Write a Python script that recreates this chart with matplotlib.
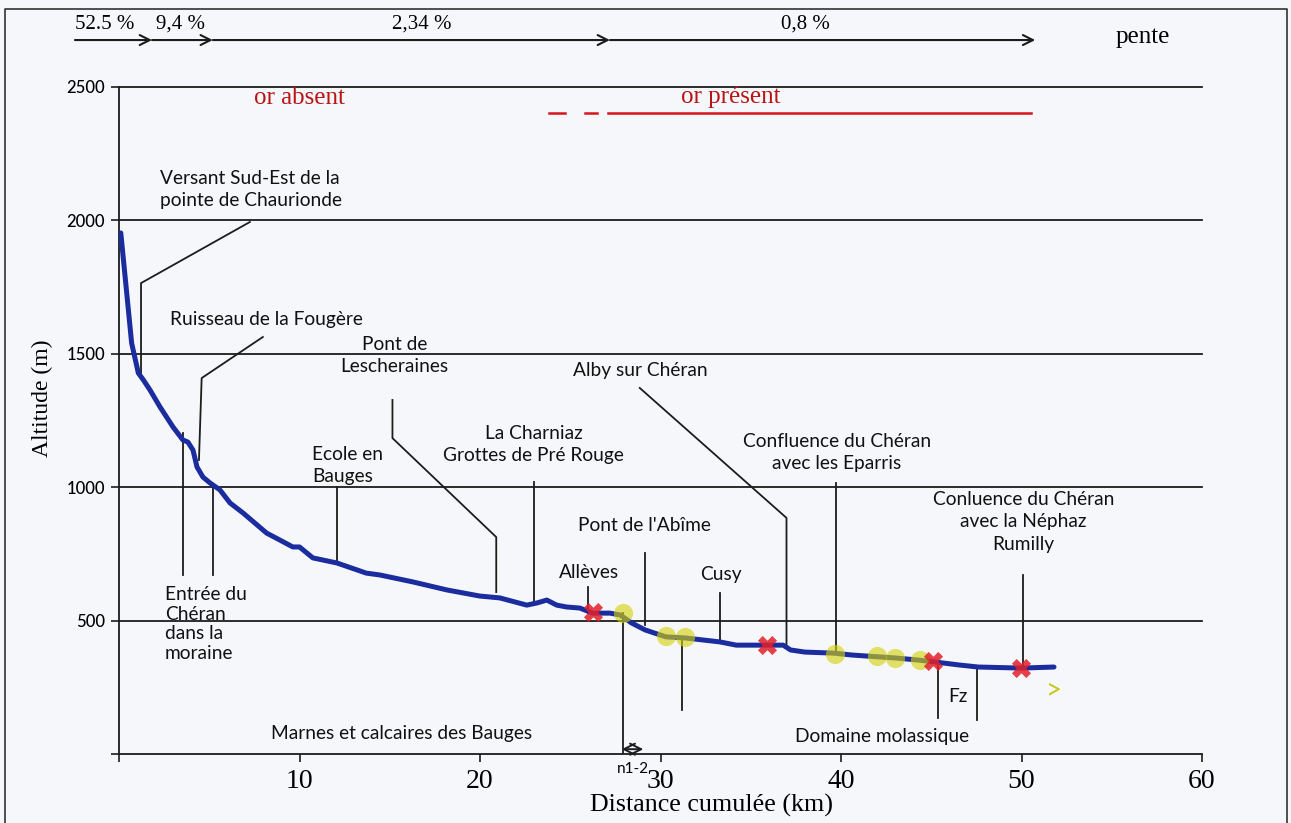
import matplotlib
matplotlib.use("Agg")
import matplotlib.pyplot as plt
from matplotlib.lines import Line2D

# profil en long du Chéran
dist = [0.1, 0.7, 1.07, 1.35, 1.72, 2.27, 2.99, 3.54, 3.82, 4.1, 4.32, 4.65, 5.04,
        5.59, 6.15, 6.88, 8.18, 8.91, 9.63, 10.0, 10.74, 12.07, 13.7, 14.45, 16.28,
        18.16, 19.99, 21.1, 22.59, 23.15, 23.7, 24.25, 24.8, 25.53, 26.25, 27.2,
        27.77, 28.4, 29.15, 30.3, 31.37, 33.3, 34.2, 35.8, 36.8, 37.2, 38.0, 39.6,
        40.6, 42.1, 43.0, 44.3, 45.2, 46.5, 47.6, 50.0, 51.8]
alt = [1953, 1540, 1428, 1402, 1364, 1301, 1226, 1177, 1169, 1139, 1076, 1038, 1016,
       990, 941, 903, 828, 802, 776, 776, 735, 716, 678, 671, 645,
       615, 592, 585, 558, 566, 577, 558, 551, 547, 528, 528,
       521, 491, 465, 439, 435, 420, 408, 408, 408, 390, 382, 378,
       371, 364, 360, 352, 345, 334, 326, 322, 326]

# stations : or absent (croix) / or present (cercles)
cross_x = [26.25, 35.9, 45.1, 49.95]
cross_y = [532, 408, 349, 322]
circ_x = [27.9, 30.3, 31.35, 39.65, 42.0, 43.0, 44.35]
circ_y = [528, 442, 438, 375, 367, 360, 352]

# pentes par troncon
pente_bounds = [-2.44, 1.83, 5.2, 27.2, 50.76]
pente_labels = ["52.5 %", "9,4 %", "2,34 %", "0,8 %"]
pente_label_x = [-0.78, 3.38, 16.78, 38.04]

# zone or present
or_segments = [(23.8, 24.7), (25.8, 26.5), (27.1, 50.5)]

# lieux : texte, position, alignement, trait de rappel
places = [
    ("Versant Sud-Est de la\npointe de Chaurionde", 2.27, 2116, "left",
     [(7.25, 1994), (1.22, 1765), (1.22, 1413)]),
    ("Ruisseau de la Fougère", 2.82, 1627, "left",
     [(7.97, 1563), (4.58, 1409), (4.43, 1102)]),
    ("Pont de\nLescheraines", 15.28, 1494, "center",
     [(15.15, 1327), (15.15, 1184), (20.9, 813), (20.9, 607)]),
    ("Ecole en\nBauges", 10.69, 1081, "left", [(12.05, 1000), (12.05, 716)]),
    ("La Charniaz\nGrottes de Pré Rouge", 22.98, 1160, "center",
     [(23.0, 1020), (23.0, 558)]),
    ("Alby sur Chéran", 28.9, 1436, "center",
     [(28.85, 1372), (36.98, 885), (36.98, 397)]),
    ("Pont de l'Abîme", 29.12, 858, "center", [(29.15, 753), (29.15, 483)]),
    ("Allèves", 26.02, 682, "center", [(26.0, 626), (26.0, 528)]),
    ("Cusy", 33.33, 671, "center", [(33.28, 603), (33.28, 420)]),
    ("Confluence du Chéran\navec les Eparris", 39.76, 1130, "center",
     [(39.75, 1016), (39.75, 378)]),
    ("Conluence du Chéran\navec la Néphaz\nRumilly", 50.11, 870, "center",
     [(50.1, 671), (50.1, 322)]),
    ("Fz", 46.46, 214, "center", [(45.4, 341), (45.4, 135)]),
    ("", 0, 0, "center", [(47.55, 322), (47.55, 127)]),
    ("", 0, 0, "center", [(31.2, 439), (31.2, 165)]),
    ("", 0, 0, "center", [(3.54, 1203), (3.54, 671)]),
    ("", 0, 0, "center", [(5.2, 1000), (5.2, 671)]),
    ("", 0, 0, "center", [(27.9, 528), (27.9, 0)]),
]

serif = "Liberation Serif"
sans = "Lato"
ink = "#1c1c1c"

fig = plt.figure(figsize=(12.91, 8.23), dpi=100, facecolor="#f6f7fa")
ax = fig.add_axes([119 / 1291, 69 / 823, 1083 / 1291, 667 / 823])
ax.set_facecolor("none")

ax.set_xlim(0, 60)
ax.set_ylim(0, 2500)
for s in ["top", "right"]:
    ax.spines[s].set_visible(False)
for s in ["left", "bottom"]:
    ax.spines[s].set_color(ink)
    ax.spines[s].set_linewidth(1.3)

ax.set_xticks(range(0, 61, 10))
ax.set_xticklabels([""] + [str(v) for v in range(10, 61, 10)], fontfamily=serif, fontsize=20)
ax.set_yticks(range(0, 2501, 500))
ax.set_yticklabels([""] + [str(v) for v in range(500, 2501, 500)], fontfamily=sans,
                   fontsize=12, fontweight="medium")
ax.tick_params(axis="both", direction="out", length=6, width=1.2, color=ink)
ax.tick_params(axis="x", pad=5)
ax.tick_params(axis="y", pad=4)

for v in range(500, 2501, 500):
    ax.axhline(v, color=ink, lw=1.3, zorder=1, clip_on=False)

ax.plot(dist, alt, color="#1b2c9e", lw=3.6, solid_capstyle="round", zorder=4)
ax.scatter(circ_x, circ_y, s=190, color="#d2d20a", alpha=0.62, zorder=5, linewidths=0)
ax.scatter(cross_x, cross_y, s=190, marker="X", color="#e3202a", alpha=0.85, zorder=6, linewidths=0)
ax.text(51.8, 240, ">", color="#c9c71a", fontsize=20, ha="center", va="center", fontfamily=sans)

for label, tx, ty, ha, leader in places:
    xs = [p[0] for p in leader]
    ys = [p[1] for p in leader]
    ax.plot(xs, ys, color=ink, lw=1.3, zorder=3)
    if label:
        ax.text(tx, ty, label, ha=ha, va="center", multialignment=ha,
                fontfamily=sans, fontsize=13.8, linespacing=1.4, color="#111111")

ax.text(2.55, 487, "Entrée du\nChéran\ndans la\nmoraine", ha="left", va="center",
        fontfamily=sans, fontsize=13.8, linespacing=1.2, color="#111111")
ax.text(15.67, 75, "Marnes et calcaires des Bauges", ha="center", va="center",
        fontfamily=sans, fontsize=13.8, color="#111111")
ax.text(42.25, 64, "Domaine molassique", ha="center", va="center",
        fontfamily=sans, fontsize=13.8, color="#111111")

# limite des formations
ax.annotate("", xy=(29.05, 18), xytext=(27.85, 18),
            arrowprops=dict(arrowstyle="<->", color=ink, lw=1.4, mutation_scale=20,
                            shrinkA=0, shrinkB=0))
ax.text(28.5, -56, "n1-2", ha="center", va="center", fontfamily=sans, fontsize=11,
        clip_on=False)

# or absent / or present
for x0, x1 in or_segments:
    ax.plot([x0, x1], [2403, 2403], color="#d9141c", lw=1.8, clip_on=False)
ax.text(9.97, 2460, "or absent", color="#b81414", fontfamily=serif, fontsize=18,
        ha="center", va="center")
ax.text(33.9, 2463, "or présent", color="#b81414", fontfamily=serif, fontsize=18,
        ha="center", va="center")

# pentes
for i in range(len(pente_labels)):
    ax.annotate("", xy=(pente_bounds[i + 1], 2676), xytext=(pente_bounds[i], 2676),
                annotation_clip=False,
                arrowprops=dict(arrowstyle="->", color=ink, lw=1.5, mutation_scale=18,
                                shrinkA=0, shrinkB=0))
    ax.text(pente_label_x[i], 2735, pente_labels[i], ha="center", va="center",
            fontfamily=serif, fontsize=15, clip_on=False)
ax.text(56.7, 2687, "pente", ha="center", va="center", fontfamily=serif, fontsize=18,
        clip_on=False)

fig.text(711 / 1291, 1 - 805 / 823, "Distance cumulée (km)", ha="center", va="center",
         fontfamily=serif, fontsize=18.7)
fig.text(42 / 1291, 1 - 398 / 823, "Altitude (m)", ha="center", va="center",
         rotation=90, fontfamily=serif, fontsize=17)

# cadre
fig.add_artist(Line2D([5 / 1291, 5 / 1291, 1287 / 1291, 1287 / 1291],
                      [0, 1 - 9 / 823, 1 - 9 / 823, 0], color="#333333", lw=1.2))

fig.savefig("out.png", dpi=100, facecolor=fig.get_facecolor())
